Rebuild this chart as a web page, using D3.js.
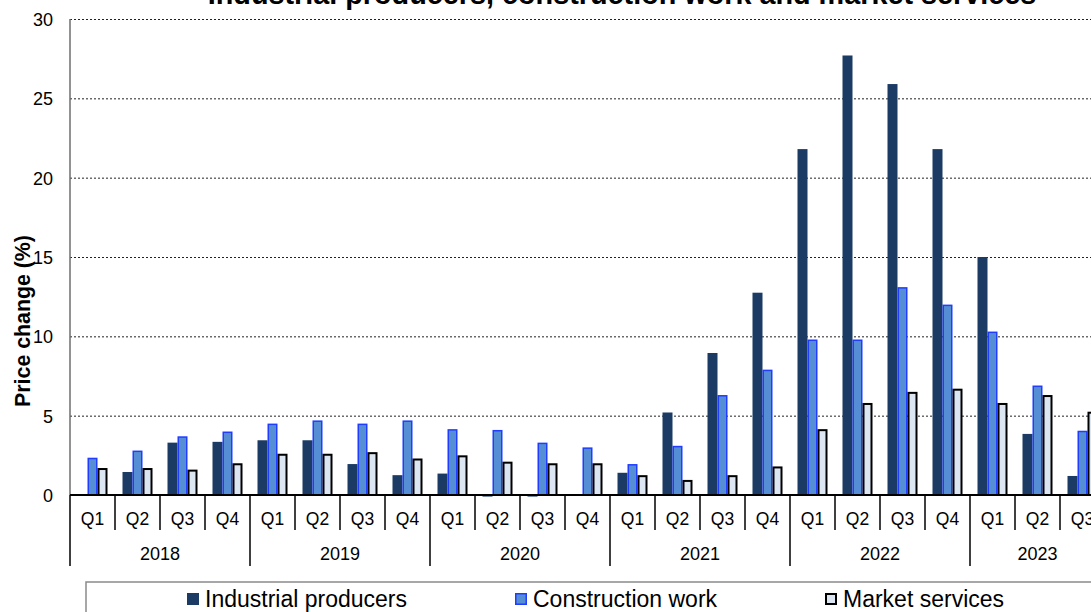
<!DOCTYPE html>
<html>
<head>
<meta charset="utf-8">
<script src="https://cdn.jsdelivr.net/npm/d3@7"></script>
<style>
  body { margin: 0; background: #fff; overflow: hidden; }
  svg { display: block; font-family: "Liberation Sans", Arial, sans-serif; }
</style>
</head>
<body>
<svg id="chart" width="1091" height="612"></svg>
<script>
// data (annual % change, by quarter)
const years = ['2018', '2019', '2020', '2021', '2022', '2023'];
const quarters = ['Q1', 'Q2', 'Q3', 'Q4'];
const seriesNames = ['Industrial producers', 'Construction work', 'Market services'];
const industrial = [0.05, 1.45, 3.3, 3.35, 3.45, 3.45, 1.95, 1.25, 1.35, -0.1, -0.1, 0.05,
                    1.4, 5.2, 8.95, 12.75, 21.8, 27.7, 25.9, 21.8, 15.0, 3.85, 1.2];
const construction = [2.35, 2.8, 3.7, 4.0, 4.5, 4.7, 4.5, 4.7, 4.15, 4.1, 3.3, 3.0,
                      1.95, 3.1, 6.3, 7.9, 9.8, 9.8, 13.1, 12.0, 10.3, 6.9, 4.05];
const market = [1.7, 1.7, 1.6, 2.0, 2.6, 2.6, 2.7, 2.3, 2.5, 2.1, 2.0, 2.0,
                1.25, 0.95, 1.25, 1.8, 4.15, 5.8, 6.5, 6.7, 5.8, 6.3, 5.25];
const yTicks = [0, 5, 10, 15, 20, 25, 30];
const title = 'Industrial producers, construction work and market services';
const yLabel = 'Price change (%)';

const colors = {
  'Industrial producers': { fill: '#1b3a64', stroke: 'none', sw: 0 },
  'Construction work': { fill: '#558ed5', stroke: '#1f3cff', sw: 1.5 },
  'Market services': { fill: '#dce6f2', stroke: '#000', sw: 2 }
};

const periods = years.flatMap(yr => quarters.map(q => ({ year: yr, q, key: yr + ' ' + q })))
  .slice(0, industrial.length);
const rows = periods.map((p, i) => ({ ...p, values: [industrial[i], construction[i], market[i]] }));

const svg = d3.select('#chart');
const plotLeft = 70, plotTop = 19, plotBottom = 495;

const x = d3.scaleBand().domain(periods.map(p => p.key)).range([plotLeft, plotLeft + 45 * periods.length]);
const xs = d3.scaleBand().domain(seriesNames).range([0, x.bandwidth()]).paddingOuter(0.75);
const y = d3.scaleLinear().domain([0, 30]).range([plotBottom, plotTop]);

// gridlines
svg.append('g').selectAll('line')
  .data(yTicks.filter(t => t !== 0))
  .enter().append('line')
  .attr('x1', plotLeft).attr('x2', 1091)
  .attr('y1', d => y(d) + 0.5).attr('y2', d => y(d) + 0.5)
  .attr('stroke', '#222').attr('stroke-width', 1).attr('stroke-dasharray', '2,2');

// y axis line
svg.append('line')
  .attr('x1', plotLeft).attr('x2', plotLeft).attr('y1', y(30)).attr('y2', y(0))
  .attr('stroke', '#6e6e6e').attr('stroke-width', 1.5);

// tick labels
svg.append('g').selectAll('text')
  .data(yTicks)
  .enter().append('text')
  .attr('x', 53).attr('y', d => y(d) + 7)
  .attr('text-anchor', 'end')
  .attr('font-size', 18)
  .attr('fill', '#000')
  .text(d => d);

// bars
const groups = svg.append('g').selectAll('g.period')
  .data(rows)
  .enter().append('g')
  .attr('class', 'period')
  .attr('transform', d => `translate(${x(d.key)},0)`);

groups.selectAll('rect')
  .data(d => d.values.map((v, i) => ({ name: seriesNames[i], v })))
  .enter().append('rect')
  .attr('x', d => xs(d.name) + colors[d.name].sw / 2)
  .attr('width', d => xs.bandwidth() - colors[d.name].sw)
  .attr('y', d => y(Math.max(0, d.v)) + colors[d.name].sw / 2)
  .attr('height', d => Math.max(0.5, Math.abs(y(d.v) - y(0)) - colors[d.name].sw / 2))
  .attr('fill', d => colors[d.name].fill)
  .attr('stroke', d => colors[d.name].stroke)
  .attr('stroke-width', d => colors[d.name].sw);

// category axis
svg.append('line')
  .attr('x1', plotLeft).attr('x2', x.range()[1])
  .attr('y1', plotBottom).attr('y2', plotBottom)
  .attr('stroke', '#000').attr('stroke-width', 2);

const bounds = d3.range(periods.length + 1);
svg.append('g').selectAll('line')
  .data(bounds)
  .enter().append('line')
  .attr('x1', i => plotLeft + i * x.step()).attr('x2', i => plotLeft + i * x.step())
  .attr('y1', plotBottom)
  .attr('y2', i => (i % 4 === 0 ? 566 : 530))
  .attr('stroke', '#000').attr('stroke-width', 1.5);

svg.append('g').selectAll('text')
  .data(periods)
  .enter().append('text')
  .attr('x', d => x(d.key) + x.bandwidth() / 2)
  .attr('y', 525)
  .attr('text-anchor', 'middle')
  .attr('font-size', 17.5)
  .text(d => d.q);

svg.append('g').selectAll('text')
  .data(years)
  .enter().append('text')
  .attr('x', yr => {
    const ps = periods.filter(p => p.year === yr);
    return (x(ps[0].key) + x(ps[ps.length - 1].key) + x.bandwidth()) / 2;
  })
  .attr('y', 560)
  .attr('text-anchor', 'middle')
  .attr('font-size', 18)
  .text(yr => yr);

// title (mostly cropped at the top)
const t = svg.append('text')
  .attr('x', 622).attr('y', 4)
  .attr('text-anchor', 'middle')
  .attr('font-size', 24).attr('font-weight', 'bold')
  .text(title);
const tl = t.node().getComputedTextLength();
t.attr('font-size', 24 * 829 / tl);

// y label
const yl = svg.append('text')
  .attr('transform', 'translate(30,321) rotate(-90)')
  .attr('text-anchor', 'middle')
  .attr('font-size', 21).attr('font-weight', 'bold')
  .text(yLabel);
yl.attr('font-size', 21 * 172 / yl.node().getComputedTextLength());

// legend
svg.append('rect')
  .attr('x', 86).attr('y', 582).attr('width', 1100).attr('height', 60)
  .attr('fill', 'none').attr('stroke', '#8a8a8a').attr('stroke-width', 1.5);

const legendX = [187, 515, 825];
const lg = svg.append('g').selectAll('g')
  .data(seriesNames)
  .enter().append('g')
  .attr('transform', (d, i) => `translate(${legendX[i]},593)`);
lg.append('rect')
  .attr('x', d => colors[d].sw / 2).attr('y', d => colors[d].sw / 2)
  .attr('width', d => 12 - colors[d].sw).attr('height', d => 12 - colors[d].sw)
  .attr('fill', d => colors[d].fill)
  .attr('stroke', d => colors[d].stroke)
  .attr('stroke-width', d => colors[d].sw);
lg.append('text')
  .attr('x', 18).attr('y', 14)
  .attr('font-size', 23)
  .text(d => d);
</script>
</body>
</html>
